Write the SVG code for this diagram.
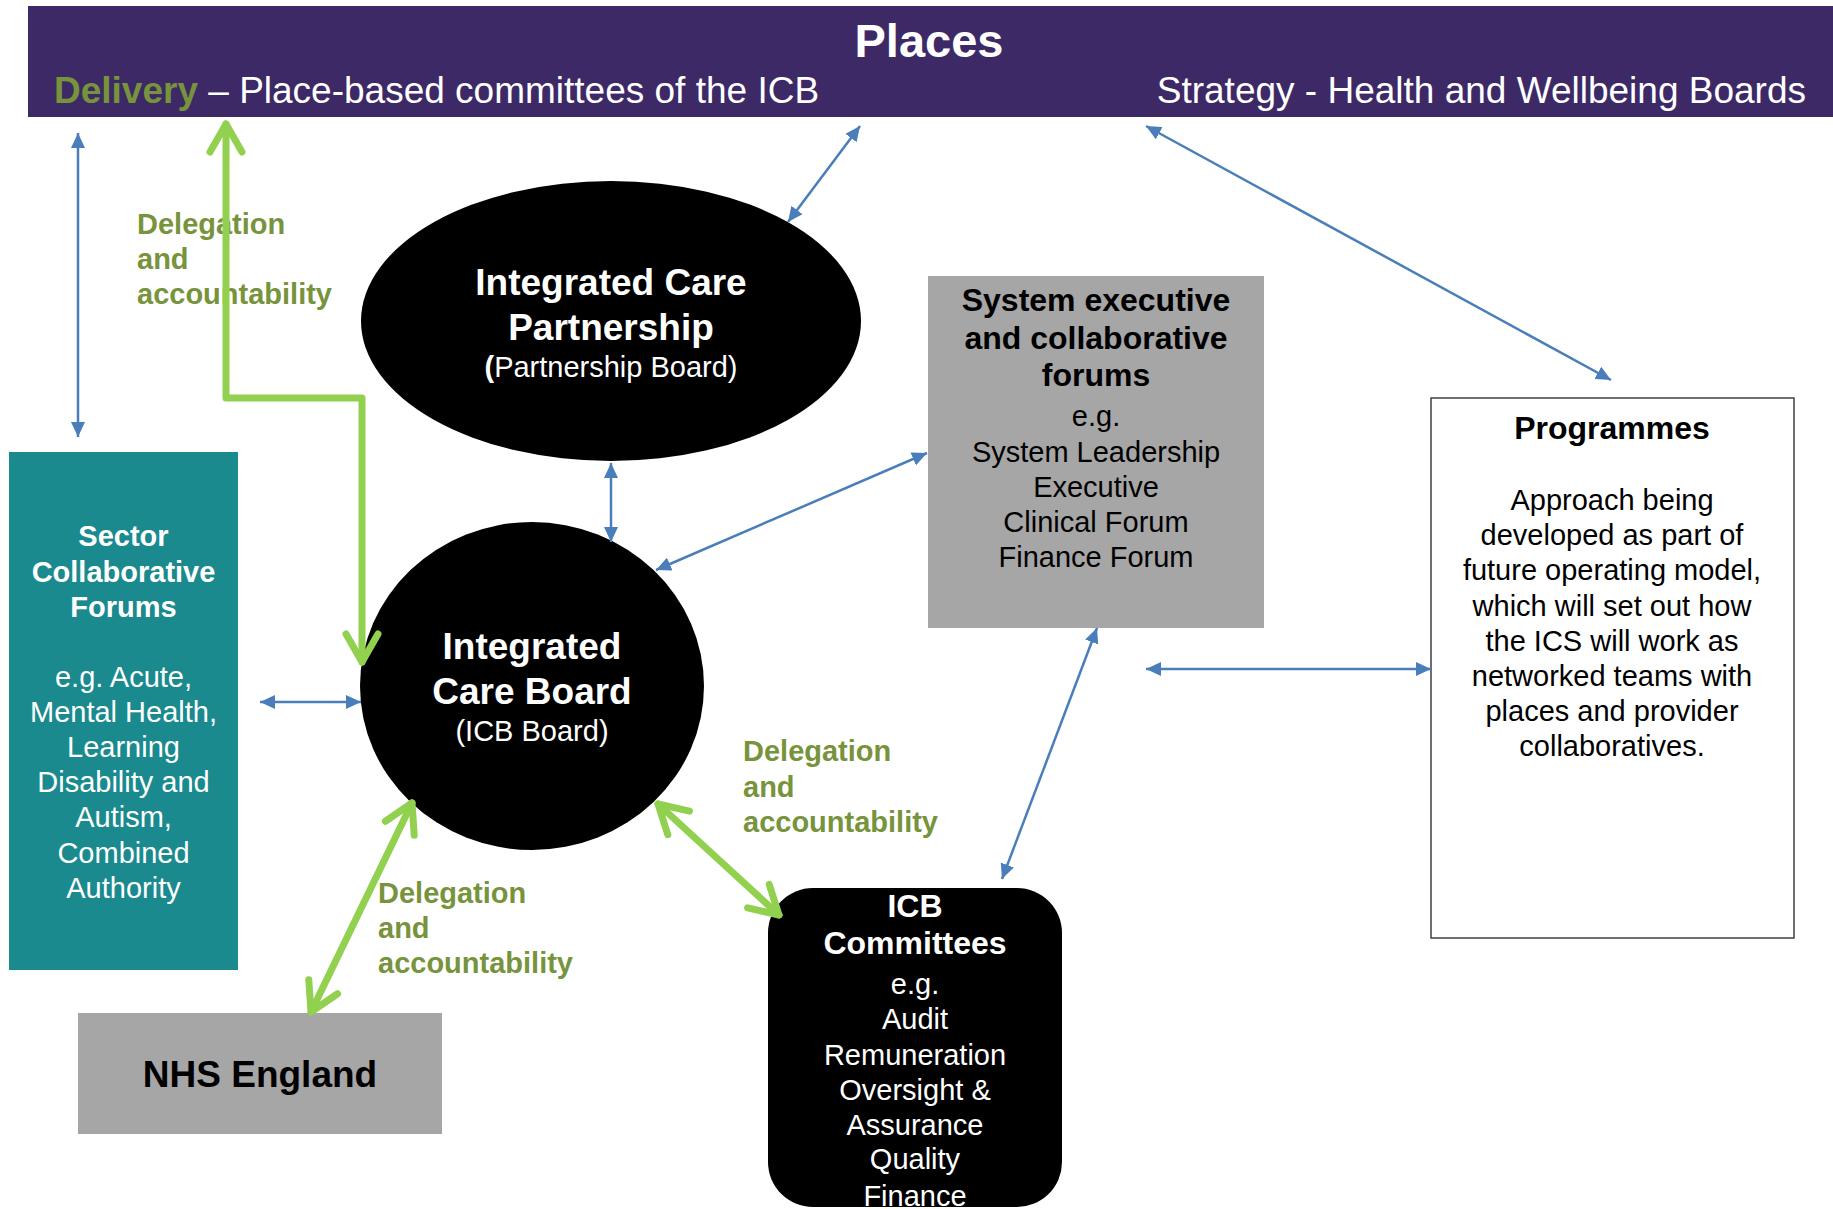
<svg xmlns="http://www.w3.org/2000/svg" width="1833" height="1209" viewBox="0 0 1833 1209">
<style>
text{font-family:"Liberation Sans",Arial,sans-serif;text-anchor:middle}
.b{font-weight:bold}
.w{fill:#ffffff}
.k{fill:#000000}
.lbl{font-weight:bold;font-size:29px;fill:#77933C;text-anchor:start}
.blue{stroke:#4A7EBB;stroke-width:2.5;fill:none;marker-start:url(#ba);marker-end:url(#ba)}
.green{stroke:#92D050;stroke-width:7;fill:none;stroke-linejoin:round;stroke-linecap:round;marker-start:url(#ga);marker-end:url(#ga)}
</style>
<defs>
<marker id="ba" viewBox="0 0 15 14" refX="15" refY="7" markerWidth="15" markerHeight="14" markerUnits="userSpaceOnUse" orient="auto-start-reverse">
<path d="M0,0 L15,7 L0,14 z" fill="#4A7EBB"/>
</marker>
<marker id="ga" viewBox="-36 -22 40 44" refX="0" refY="0" markerWidth="40" markerHeight="44" markerUnits="userSpaceOnUse" orient="auto-start-reverse" overflow="visible">
<path d="M-28,-16 L0,0 L-28,16" fill="none" stroke="#92D050" stroke-width="7" stroke-linecap="round" stroke-linejoin="round"/>
</marker>
</defs>
<rect width="1833" height="1209" fill="#ffffff"/>

<g id="places">
<rect x="28" y="6" width="1805" height="111" fill="#3D2966"/>
<text x="929" y="57" class="b w" font-size="47">Places</text>
<text x="54" y="103" font-size="37" class="w" style="text-anchor:start"><tspan class="b" fill="#77933C">Delivery</tspan> – Place-based committees of the ICB</text>
<text x="1806" y="103" font-size="37" class="w" style="text-anchor:end">Strategy - Health and Wellbeing Boards</text>
</g>

<g id="labels">
<text class="lbl"><tspan x="137" y="234">Delegation</tspan><tspan x="137" y="269">and</tspan><tspan x="137" y="304">accountability</tspan></text>
<text class="lbl"><tspan x="378" y="903">Delegation</tspan><tspan x="378" y="938">and</tspan><tspan x="378" y="973">accountability</tspan></text>
<text class="lbl"><tspan x="743" y="761">Delegation</tspan><tspan x="743" y="797">and</tspan><tspan x="743" y="832">accountability</tspan></text>
</g>

<g id="icp">
<ellipse cx="611" cy="321" rx="250" ry="140" fill="#000000"/>
<text x="611" y="295" class="b w" font-size="37">Integrated Care</text>
<text x="611" y="340" class="b w" font-size="37">Partnership</text>
<text x="611" y="377" class="w" font-size="29"><tspan class="b">(</tspan>Partnership Board)</text>
</g>

<g id="icb">
<ellipse cx="532" cy="686" rx="172" ry="164" fill="#000000"/>
<text x="532" y="659" class="b w" font-size="37">Integrated</text>
<text x="532" y="704" class="b w" font-size="37">Care Board</text>
<text x="532" y="741" class="w" font-size="29">(ICB Board)</text>
</g>

<g id="system-exec">
<rect x="928" y="276" width="336" height="352" fill="#A6A6A6"/>
<text class="b k" font-size="32"><tspan x="1096" y="311">System executive</tspan><tspan x="1096" y="349">and collaborative</tspan><tspan x="1096" y="386">forums</tspan></text>
<text class="k" font-size="29"><tspan x="1096" y="426">e.g.</tspan><tspan x="1096" y="462">System Leadership</tspan><tspan x="1096" y="497">Executive</tspan><tspan x="1096" y="532">Clinical Forum</tspan><tspan x="1096" y="567">Finance Forum</tspan></text>
</g>

<g id="programmes">
<rect x="1431" y="398" width="363" height="540" fill="#ffffff" stroke="#404040" stroke-width="1.5"/>
<text x="1612" y="439" class="b k" font-size="32">Programmes</text>
<text class="k" font-size="29"><tspan x="1612" y="510">Approach being</tspan><tspan x="1612" y="545">developed as part of</tspan><tspan x="1612" y="580">future operating model,</tspan><tspan x="1612" y="616">which will set out how</tspan><tspan x="1612" y="651">the ICS will work as</tspan><tspan x="1612" y="686">networked teams with</tspan><tspan x="1612" y="721">places and provider</tspan><tspan x="1612" y="756">collaboratives.</tspan></text>
</g>

<g id="sector">
<rect x="9" y="452" width="229" height="518" fill="#1A8A8E"/>
<text class="b w" font-size="29"><tspan x="123.5" y="546">Sector</tspan><tspan x="123.5" y="582">Collaborative</tspan><tspan x="123.5" y="617">Forums</tspan></text>
<text class="w" font-size="29"><tspan x="123.5" y="687">e.g. Acute,</tspan><tspan x="123.5" y="722">Mental Health,</tspan><tspan x="123.5" y="757">Learning</tspan><tspan x="123.5" y="792">Disability and</tspan><tspan x="123.5" y="827">Autism,</tspan><tspan x="123.5" y="863">Combined</tspan><tspan x="123.5" y="898">Authority</tspan></text>
</g>

<g id="nhs-england">
<rect x="78" y="1013" width="364" height="121" fill="#A6A6A6"/>
<text x="260" y="1087" class="b k" font-size="37">NHS England</text>
</g>

<g id="icb-committees">
<rect x="768" y="888" width="294" height="319" rx="45" ry="45" fill="#000000"/>
<text class="b w" font-size="32"><tspan x="915" y="917">ICB</tspan><tspan x="915" y="954">Committees</tspan></text>
<text class="w" font-size="29"><tspan x="915" y="994">e.g.</tspan><tspan x="915" y="1029">Audit</tspan><tspan x="915" y="1065">Remuneration</tspan><tspan x="915" y="1100">Oversight &amp;</tspan><tspan x="915" y="1135">Assurance</tspan><tspan x="915" y="1169">Quality</tspan><tspan x="915" y="1206">Finance</tspan></text>
</g>

<g id="connectors">
<line class="blue" x1="78" y1="133" x2="78" y2="437"/>
<line class="blue" x1="860" y1="126" x2="788" y2="222"/>
<line class="blue" x1="611" y1="463" x2="611" y2="542"/>
<line class="blue" x1="927" y1="453" x2="656" y2="570"/>
<line class="blue" x1="1146" y1="126" x2="1611" y2="380"/>
<line class="blue" x1="1146" y1="669" x2="1431" y2="669"/>
<line class="blue" x1="260" y1="702" x2="361" y2="702"/>
<line class="blue" x1="1097" y1="628" x2="1002" y2="879"/>
<path class="green" d="M226,124 V398 H362 V662"/>
<line class="green" x1="412" y1="803" x2="311" y2="1012"/>
<line class="green" x1="658" y1="804" x2="779" y2="915"/>
</g>
</svg>
